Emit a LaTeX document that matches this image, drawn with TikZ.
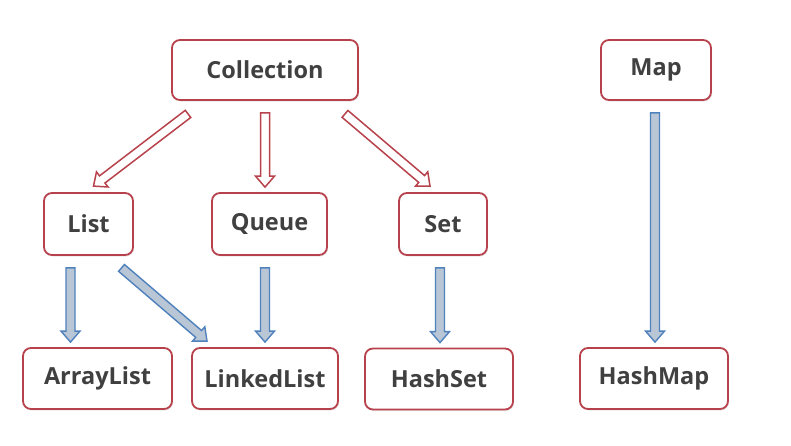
\documentclass[tikz,border=0pt]{standalone}
\usepackage{fontspec}
\setmainfont{Open Sans}
\usetikzlibrary{calc,shadows}
\definecolor{boxred}{HTML}{B8424C}
\definecolor{txtgray}{HTML}{404040}
\definecolor{arrblue}{HTML}{4F81BD}
\definecolor{arrfill}{HTML}{B9C6D6}
\tikzset{
  box/.style={draw=boxred, line width=1.8pt, rounded corners=8pt, fill=white,
    text=txtgray, font=\fontsize{23.5}{26}\selectfont\bfseries, inner sep=0pt,
    drop shadow={opacity=0.18, shadow xshift=1pt, shadow yshift=-1.5pt}},
  redarr/.style={draw=boxred, fill=white, line width=1.5pt, line join=miter},
  bluearr/.style={draw=arrblue, fill=arrfill, line width=1.4pt, line join=miter},
}
% #1 style, #2 start coordinate, #3 tip coordinate
\newcommand{\blockarr}[3]{%
  \coordinate (bah) at ($(#3)!11pt!(#2)$);
  \draw[#1] ($(#2)!4.5pt!90:(#3)$) -- ($(bah)!4.5pt!90:(#3)$) --
    ($(bah)!9.5pt!90:(#3)$) -- (#3) -- ($(bah)!9.5pt!-90:(#3)$) --
    ($(bah)!4.5pt!-90:(#3)$) -- ($(#2)!4.5pt!-90:(#3)$) -- cycle;%
}
\begin{document}
\begin{tikzpicture}[x=1pt,y=-1pt]
\useasboundingbox[fill=white] (0,0) rectangle (791,445);
% row 1
\node[box, minimum width=186pt, minimum height=60pt] (coll) at (265,70) {Collection};
\node[box, minimum width=110pt, minimum height=60pt] (map) at (656,70) {Map};
% row 2
\node[box, minimum width=89pt, minimum height=62pt] (list) at (88.5,224) {List};
\node[box, minimum width=115pt, minimum height=62pt] (queue) at (269.5,224) {Queue};
\node[box, minimum width=88pt, minimum height=62pt] (set) at (443,224) {Set};
% row 3
\node[box, minimum width=149pt, minimum height=61pt] (alist) at (97.5,378.5) {ArrayList};
\node[box, minimum width=146pt, minimum height=61pt] (llist) at (265,378.5) {LinkedList};
\node[box, minimum width=148pt, minimum height=61pt] (hset) at (439,379) {HashSet};
\node[box, minimum width=148pt, minimum height=61pt] (hmap) at (654,378.5) {HashMap};
% arrow end points
\coordinate (c1s) at ($(coll.south)+(-77,13)$);
\coordinate (c1e) at ($(list.north)+(5,-6)$);
\coordinate (c2s) at ($(coll.south)+(0,12)$);
\coordinate (c2e) at ($(queue.north)+(-4.5,-5)$);
\coordinate (c3s) at ($(coll.south)+(80,13)$);
\coordinate (c3e) at ($(set.north)+(-13,-6)$);
\coordinate (l1s) at ($(list.south)+(-18,12)$);
\coordinate (l1e) at ($(alist.north)+(-27,-5)$);
\coordinate (l2s) at ($(list.south)+(33,12)$);
\coordinate (l2e) at ($(llist.north)+(-58,-6)$);
\coordinate (q1s) at ($(queue.south)+(-4.5,12)$);
\coordinate (q1e) at ($(llist.north)+(0,-5)$);
\coordinate (s1s) at ($(set.south)+(-3,12)$);
\coordinate (s1e) at ($(hset.north)+(1,-5)$);
\coordinate (m1s) at ($(map.south)+(-1,12)$);
\coordinate (m1e) at ($(hmap.north)+(1,-5)$);
% red arrows
\blockarr{redarr}{c1s}{c1e}
\blockarr{redarr}{c2s}{c2e}
\blockarr{redarr}{c3s}{c3e}
% blue arrows
\blockarr{bluearr}{l1s}{l1e}
\blockarr{bluearr}{l2s}{l2e}
\blockarr{bluearr}{q1s}{q1e}
\blockarr{bluearr}{s1s}{s1e}
\blockarr{bluearr}{m1s}{m1e}
\end{tikzpicture}
\end{document}
